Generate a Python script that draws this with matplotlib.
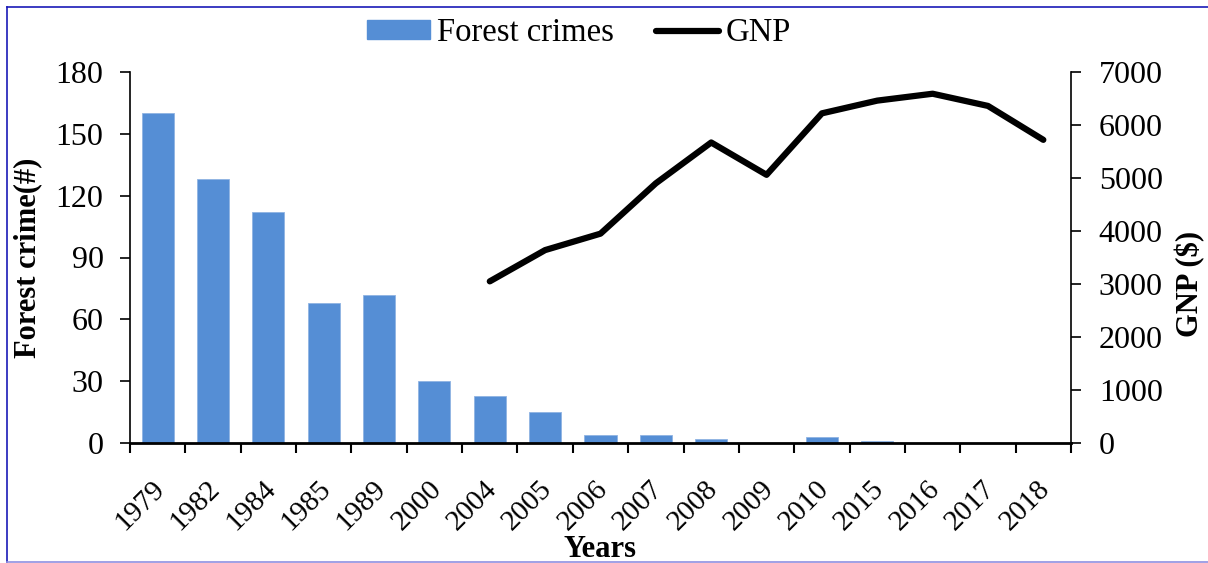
import matplotlib.pyplot as plt
from matplotlib.lines import Line2D
import matplotlib.transforms as mtransforms
import numpy as np

plt.rcParams['font.family'] = ['Liberation Serif', 'DejaVu Serif']

years = ['1979', '1982', '1984', '1985', '1989', '2000', '2004', '2005', '2006',
         '2007', '2008', '2009', '2010', '2015', '2016', '2017', '2018']
crimes = [160, 128, 112, 68, 72, 30, 23, 15, 4, 4, 2, 0, 3, 1, 0, 0, 0]
gnp_years = ['2004', '2005', '2006', '2007', '2008', '2009', '2010', '2015', '2016', '2017', '2018']
gnp = [3050, 3640, 3950, 4900, 5670, 5060, 6220, 6460, 6590, 6360, 5720]

W, H = 1208, 563
fig = plt.figure(figsize=(W / 100, H / 100), dpi=100)
ax = fig.add_axes([130 / W, 1 - 443 / H, (1071 - 130) / W, (443 - 72) / H])

x = np.arange(len(years))
ax.bar(x, crimes, width=0.58, color='#558ED5', edgecolor='#8fb3e3', linewidth=0.6,
       label='Forest crimes', zorder=2)

ax2 = ax.twinx()
gx = [years.index(y) for y in gnp_years]
ax2.plot(gx, gnp, color='black', lw=4.5, solid_capstyle='round', solid_joinstyle='round',
         label='GNP', zorder=3)

ax.set_xlim(-0.5, len(years) - 0.5)
ax.set_ylim(0, 180)
ax.set_yticks(range(0, 181, 30))
ax2.set_ylim(0, 7000)
ax2.set_yticks(range(0, 7001, 1000))

# ticks at category boundaries, labels at centres
ax.set_xticks(np.arange(len(years) + 1) - 0.5)
ax.set_xticklabels([])
ax.set_xticks(x, minor=True)
ax.set_xticklabels(years, minor=True, rotation=45, ha='right', va='center',
                   rotation_mode='anchor', fontsize=21)
ax.tick_params(axis='x', which='minor', length=0, pad=30)
ax.tick_params(axis='x', which='major', length=7, width=1.5, direction='out')
ax.tick_params(axis='y', length=7, width=1.2, direction='out', labelsize=23, pad=12)
ax2.tick_params(axis='y', length=7, width=1.2, direction='out', labelsize=23, pad=13)
shift = mtransforms.ScaledTranslation(3 / 100, 0, fig.dpi_scale_trans)
for lbl in ax.get_xticklabels(minor=True):
    lbl.set_transform(lbl.get_transform() + shift)

for a in (ax, ax2):
    a.spines['top'].set_visible(False)
ax.spines['right'].set_visible(False)
ax.spines['bottom'].set_linewidth(2)
ax.spines['left'].set_linewidth(1.2)
ax2.spines['right'].set_linewidth(1.2)
ax2.spines['left'].set_visible(False)
ax2.spines['bottom'].set_visible(False)

ax.set_ylabel('Forest crime(#)', fontsize=22, fontweight='bold')
ax.yaxis.set_label_coords(-88 / 941, 0.5)
ax2.set_ylabel('GNP ($)', fontsize=22, fontweight='bold')
ax2.yaxis.set_label_coords(1 + 104 / 941, 0.43)
fig.text(600 / W, 1 - 557 / H, 'Years', fontsize=22, fontweight='bold',
         ha='center', va='baseline')

handles = [plt.Rectangle((0, 0), 1, 1, color='#558ED5'),
           Line2D([0], [0], color='black', lw=4.5, solid_capstyle='round')]
fig.legend(handles, ['Forest crimes', 'GNP'], loc='center', bbox_to_anchor=(579 / W, 1 - 33 / H),
           ncol=2, frameon=False, fontsize=23.5, handlelength=1.93, handleheight=0.5,
           handletextpad=0.21, columnspacing=1.29, borderaxespad=0)

# border around the figure
fig.add_artist(Line2D([7 / W, 1], [1 - 7 / H, 1 - 7 / H], color='#1a1ab8', lw=1.2,
                      transform=fig.transFigure))
fig.add_artist(Line2D([7 / W, 7 / W], [1 - 7 / H, 1 - 562 / H], color='#1a1ab8', lw=1.2,
                      transform=fig.transFigure))
fig.add_artist(Line2D([7 / W, 1], [1 - 562 / H, 1 - 562 / H], color='#9090e0', lw=1.2,
                      transform=fig.transFigure))

fig.savefig('out.png', dpi=100)
